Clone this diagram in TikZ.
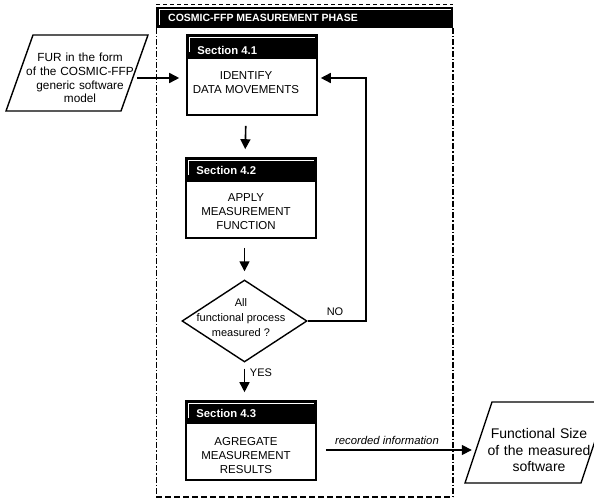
\documentclass[tikz,border=0pt]{standalone}
\usepackage{fontspec}
\setmainfont{Liberation Sans}
\usetikzlibrary{arrows.meta,calc,shapes.geometric}
\begin{document}
\begin{tikzpicture}[x=1pt,y=-1pt,
  box/.style={draw, line width=1.6pt, minimum width=130pt, minimum height=80pt, inner sep=0pt},
  sec/.style={font=\fontsize{11.3}{13}\selectfont\bfseries, text=white, anchor=west, inner sep=0pt},
  body/.style={font=\fontsize{11.5}{14}\selectfont, align=center, inner sep=0pt},
  arr/.style={line width=1.6pt, -{Triangle[length=10pt,width=10pt]}},
  dia/.style={draw, shape=diamond, line width=1.4pt, minimum width=125pt, minimum height=82pt, inner sep=0pt},
  lbl/.style={font=\fontsize{11}{13}\selectfont, inner sep=0pt},
  para/.style={line width=1.4pt, line join=miter},
  inset/.style={white, line width=0.6pt}
]
\useasboundingbox (0,0) rectangle (594,500);

% ---- measurement phase frame ----
\draw[line width=0.7pt, dash pattern=on 4pt off 3pt] (156,4) -- (453,4);
\fill (156,7) rectangle (453,28);
\draw[inset] (159,25) -- (159,9.5) -- (451,9.5);
\node[font=\fontsize{10.5}{12}\selectfont\bfseries, text=white, anchor=west, inner sep=0pt] (title) at (168,18) {COSMIC-FFP MEASUREMENT PHASE};
\draw[line width=1pt, dash pattern=on 6pt off 2pt on 1.5pt off 2pt] (156,28) -- (156,497);
\draw[line width=1.4pt, dash pattern=on 6pt off 2pt on 1.5pt off 2pt] (453,28) -- (453,497);
\draw[line width=2pt, dash pattern=on 6pt off 3pt] (156,497) -- (453,497);

% ---- input ----
\draw[para] (33,35) -- (148,35) -- (121,111) -- (6,111) -- cycle;
\node[font=\fontsize{11.8}{13.8}\selectfont, align=center, text width=114pt, inner sep=0pt] (fur) at (80,78) {FUR in the form\\of the COSMIC-FFP\\generic software\\model};

% ---- Section 4.1 ----
\node[box] (b41) at (252,75) {};
\fill (b41.north west) rectangle ($(b41.north east)+(0,25)$);
\draw[inset] ($(b41.north west)+(3.5,18)$) -- ($(b41.north west)+(3.5,3.5)$) -- ($(b41.north east)+(-3,3.5)$);
\node[sec] (s41) at ($(b41.north west)+(11,16)$) {Section 4.1};
\node[body] (t41) at (246,83) {IDENTIFY\\DATA MOVEMENTS};

% ---- Section 4.2 ----
\node[box] (b42) at (251,198) {};
\fill (b42.north west) rectangle ($(b42.north east)+(0,25)$);
\draw[inset] ($(b42.north west)+(3.5,18)$) -- ($(b42.north west)+(3.5,3.5)$) -- ($(b42.north east)+(-3,3.5)$);
\node[sec] (s42) at ($(b42.north west)+(11,13)$) {Section 4.2};
\node[body] (t42) at (246,212) {APPLY\\MEASUREMENT\\FUNCTION};

% ---- decision ----
\node[dia] (d) at (244.5,321) {};
\node[lbl, align=center, font=\fontsize{11}{15}\selectfont] (dt) at (241,318) {All\\functional process\\measured ?};

% ---- Section 4.3 ----
\node[box, minimum height=79pt] (b43) at (251,440.5) {};
\fill (b43.north west) rectangle ($(b43.north east)+(0,24)$);
\draw[inset] ($(b43.north west)+(3.5,18)$) -- ($(b43.north west)+(3.5,3.5)$) -- ($(b43.north east)+(-3,3.5)$);
\node[sec] (s43) at ($(b43.north west)+(11,13)$) {Section 4.3};
\node[body] (t43) at (246,456) {AGREGATE\\MEASUREMENT\\RESULTS};

% ---- output ----
\draw[para] (492,402) -- (608,402) -- (581,483) -- (465,483) -- cycle;
\node[font=\fontsize{14}{16.5}\selectfont, align=center, text width=134pt, inner sep=0pt] (outt) at (539,450) {Functional Size\\of the measured\\software};

% ---- connectors ----
\draw[arr, shorten >=7pt] (fur.east) -- (b41.west |- fur.east);
\draw[arr, shorten <=10pt, shorten >=8pt] ([xshift=-6pt]b41.south) -- ([xshift=-6pt]b42.north);
\draw[arr, shorten <=9pt, shorten >=8pt] (b42.south -| d.north) -- (d.north);
\draw[arr, shorten >=3pt] (d.east) -- ++(58,0) |- ([yshift=-3pt]b41.east);
\node[lbl] (no) at (335,312) {NO};
\draw[arr, shorten <=6pt, shorten >=8pt] (d.south) -- (d.south |- b43.north);
\node[lbl] (yes) at (261,373) {YES};
\draw[arr, shorten <=9pt] (b43.east |- outt.west) -- (outt.west);
\node[lbl, font=\fontsize{11.3}{13}\selectfont\itshape] (rec) at (387,440) {recorded information};
\end{tikzpicture}
\end{document}
